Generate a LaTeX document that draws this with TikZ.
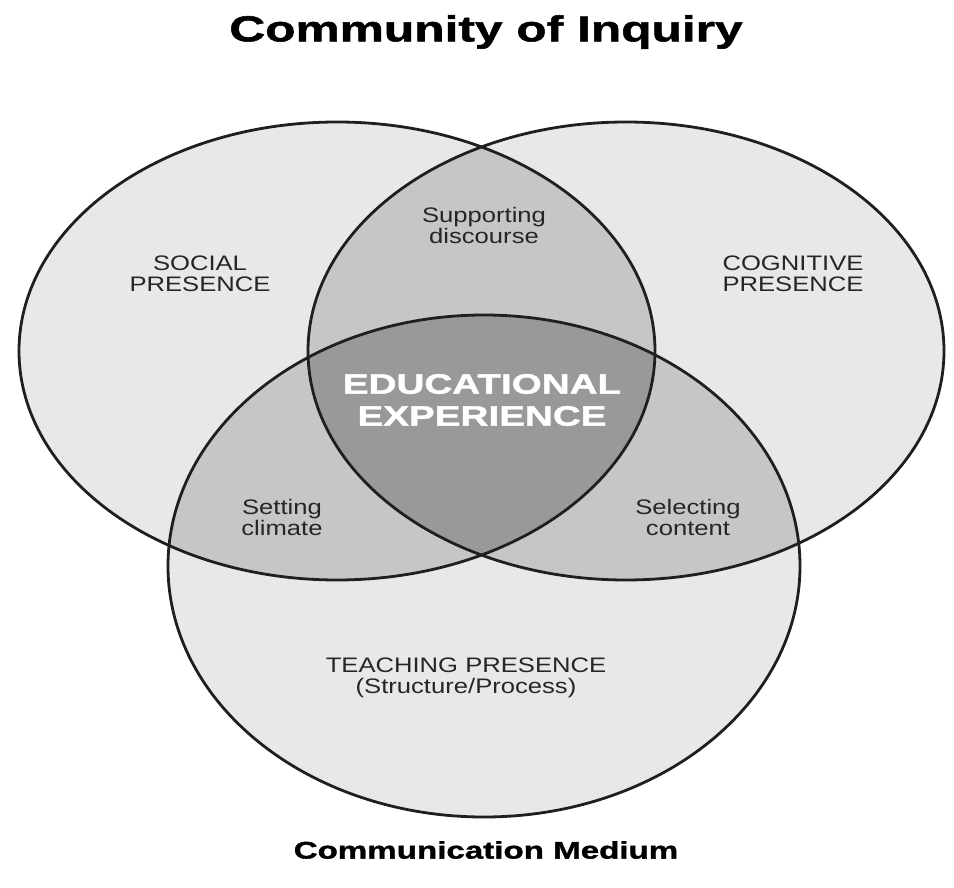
\documentclass[tikz,border=0pt]{standalone}
\usepackage{fontspec}
\setmainfont{Liberation Sans}
\newfontfamily\lblfont[FakeStretch=1.22]{Liberation Sans}
\newfontfamily\bigfont[FakeStretch=1.38,FakeBold=1.5]{Liberation Sans Bold}
\begin{document}
\begin{tikzpicture}[x=1pt,y=-1pt,
  lbl/.style={align=center,font=\lblfont\fontsize{21}{21}\selectfont,text=black!85},
  outline/.style={line width=2.8pt,draw=black!88}]
\useasboundingbox (0,0) rectangle (954,888);
\def\EL{(337,351) ellipse [x radius=318,y radius=229]}
\def\ER{(626,351) ellipse [x radius=318,y radius=229]}
\def\EB{(484,566) ellipse [x radius=316,y radius=251]}
\fill[gray!18] \EL; \fill[gray!18] \ER; \fill[gray!18] \EB;
\begin{scope}\clip \EL; \fill[gray!45] \ER; \fill[gray!45] \EB;\end{scope}
\begin{scope}\clip \ER; \fill[gray!45] \EB;\end{scope}
\begin{scope}\clip \EL; \clip \ER; \fill[gray!80] \EB;\end{scope}
\draw[outline] \EL; \draw[outline] \ER; \draw[outline] \EB;
\node (title) at (486,32) {\bigfont\fontsize{36}{38}\selectfont Community of Inquiry};
\node[lbl] (soc) at (200,274) {SOCIAL\\PRESENCE};
\node[lbl] (cog) at (793,274) {COGNITIVE\\PRESENCE};
\node[lbl] (sup) at (484,225) {Supporting\\discourse};
\node[lbl] (set) at (282,517) {Setting\\climate};
\node[lbl] (sel) at (688,517) {Selecting\\content};
\node[lbl] (tea) at (466,678) {TEACHING PRESENCE\\(Structure/Process)};
\node[align=center,text=white,font=\bigfont\fontsize{28}{32}\selectfont] (edu) at (482,400) {EDUCATIONAL\\EXPERIENCE};
\node (med) at (486,850) {\bigfont\fontsize{24}{26}\selectfont Communication Medium};
\end{tikzpicture}
\end{document}
